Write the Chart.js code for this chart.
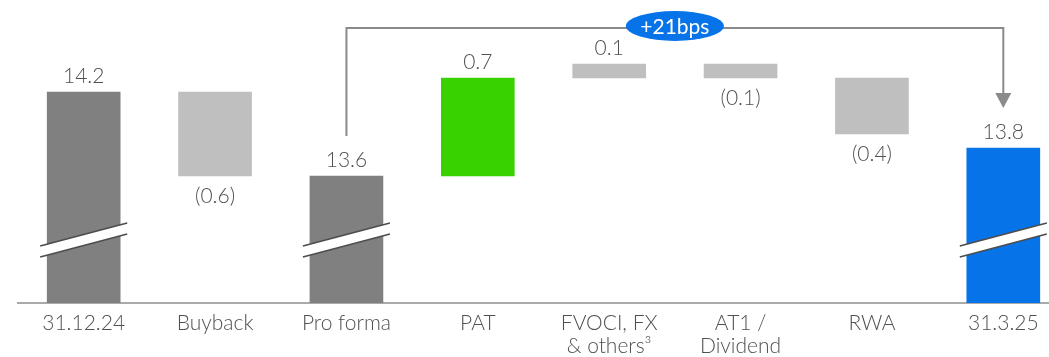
<!DOCTYPE html>
<html>
<head>
<meta charset="utf-8">
<title>CET1 ratio walk</title>
<script src="https://cdn.jsdelivr.net/npm/chart.js@4.4.1/dist/chart.umd.min.js"></script>
<style>
  html, body { margin: 0; padding: 0; background: #fff; overflow: hidden; }
  #wrap { width: 1069px; height: 357px; }
</style>
</head>
<body>
<div id="wrap"><canvas id="walk" width="1069" height="357"></canvas></div>
<script>
// CET1 ratio walk, %
const categories = ['31.12.24', 'Buyback', 'Pro forma', 'PAT', ['FVOCI, FX', '& others³'], ['AT1 /', 'Dividend'], 'RWA', '31.3.25'];
const openingRatio = 14.2;
const buybackImpact = -0.6;
const proFormaRatio = 13.6;
const movements = [0.7, 0.1, -0.1, -0.4];   // PAT, FVOCI/FX & others, AT1/Dividend, RWA
const closingRatio = 13.8;
const changeLabel = '+21bps';

const colours = {
  total: '#808080',
  down: '#bfbfbf',
  up: '#38d200',
  closing: '#0673e8',
  text: '#505050',
  axis: '#aaaaaa',
  connector: '#8a8a8a',
  breakLine: '#4d4d4d'
};
const fontFamily = 'Lato';
const fontWeight = 300;

// build the floating-bar table
const barData = [];
const barDeltas = [];
const barColours = [];
barData.push(openingRatio); barDeltas.push(openingRatio); barColours.push(colours.total);
barData.push([openingRatio + buybackImpact, openingRatio]); barDeltas.push(buybackImpact); barColours.push(colours.down);
barData.push(proFormaRatio); barDeltas.push(proFormaRatio); barColours.push(colours.total);
let running = proFormaRatio;
movements.forEach((m, i) => {
  const next = running + m;
  barData.push([Math.min(running, next), Math.max(running, next)]);
  barDeltas.push(m);
  barColours.push(i === 0 ? colours.up : colours.down);
  running = next;
});
barData.push(closingRatio); barDeltas.push(closingRatio); barColours.push(colours.closing);
const totalIdx = [0, 2, 7];

function fmt(v) {
  return v < 0 ? '(' + Math.abs(v).toFixed(1) + ')' : v.toFixed(1);
}

const walkDecor = {
  id: 'walkDecor',
  afterDatasetsDraw(chart) {
    const { ctx, chartArea } = chart;
    const bars = chart.getDatasetMeta(0).data;
    ctx.save();

    // axis breaks on the full-height bars
    totalIdx.forEach(i => {
      const el = bars[i];
      const x1 = el.x - el.width / 2 - 7;
      const x2 = el.x + el.width / 2 + 7;
      const rise = (x2 - x1) * 23 / 87;
      const yU = chartArea.bottom - 57, yL = chartArea.bottom - 46;
      ctx.beginPath();
      ctx.moveTo(x1, yU); ctx.lineTo(x2, yU - rise);
      ctx.lineTo(x2, yL - rise); ctx.lineTo(x1, yL);
      ctx.closePath();
      ctx.fillStyle = '#ffffff';
      ctx.fill();
      ctx.strokeStyle = colours.breakLine;
      ctx.lineWidth = 1.8;
      ctx.beginPath();
      ctx.moveTo(x1, yU); ctx.lineTo(x2, yU - rise);
      ctx.moveTo(x1, yL); ctx.lineTo(x2, yL - rise);
      ctx.stroke();
    });

    // value labels
    ctx.font = fontWeight + ' 21px ' + fontFamily;
    ctx.fillStyle = colours.text;
    ctx.textAlign = 'center';
    ctx.textBaseline = 'alphabetic';
    bars.forEach((el, i) => {
      const top = Math.min(el.y, el.base);
      const bottom = Math.max(el.y, el.base);
      const d = barDeltas[i];
      if (d < 0) ctx.fillText(fmt(d), el.x, bottom + 27);
      else ctx.fillText(fmt(d), el.x, top - 9);
    });

    // connector from pro forma to closing
    const a = bars[2], b = bars[7];
    const lineY = chartArea.top + 28;
    const startY = Math.min(a.y, a.base) - 40;
    const tipY = Math.min(b.y, b.base) - 40;
    ctx.strokeStyle = colours.connector;
    ctx.lineWidth = 2;
    ctx.beginPath();
    ctx.moveTo(a.x, startY);
    ctx.lineTo(a.x, lineY);
    ctx.lineTo(b.x, lineY);
    ctx.lineTo(b.x, tipY - 14);
    ctx.stroke();
    ctx.fillStyle = colours.connector;
    ctx.beginPath();
    ctx.moveTo(b.x - 8, tipY - 15);
    ctx.lineTo(b.x + 8, tipY - 15);
    ctx.lineTo(b.x, tipY);
    ctx.closePath();
    ctx.fill();

    // change bubble
    const cx = (a.x + b.x) / 2;
    ctx.fillStyle = colours.closing;
    ctx.beginPath();
    ctx.ellipse(cx, chartArea.top + 26, 49, 15, 0, 0, Math.PI * 2);
    ctx.fill();
    ctx.fillStyle = '#ffffff';
    ctx.font = '400 21px ' + fontFamily;
    ctx.textBaseline = 'middle';
    ctx.fillText(changeLabel, cx, chartArea.top + 27);
    ctx.restore();
  }
};

Chart.defaults.font.family = fontFamily;
new Chart(document.getElementById('walk'), {
  type: 'bar',
  data: {
    labels: categories,
    datasets: [{
      data: barData,
      backgroundColor: barColours,
      borderWidth: 0,
      borderSkipped: false,
      barThickness: 73
    }]
  },
  options: {
    responsive: false,
    animation: false,
    events: [],
    layout: { padding: { left: 18, right: 0, top: 0, bottom: 0 } },
    plugins: { legend: { display: false }, tooltip: { enabled: false } },
    scales: {
      x: {
        grid: { display: false, drawTicks: false },
        border: { display: true, color: colours.axis, width: 2 },
        ticks: { color: colours.text, font: { size: 21, weight: fontWeight, lineHeight: 1.1 }, padding: 9, maxRotation: 0, autoSkip: false },
        afterFit(scale) { scale.height = 54; }
      },
      y: {
        display: false,
        min: 12.693,
        max: 14.857
      }
    }
  },
  plugins: [walkDecor]
});
</script>
</body>
</html>
